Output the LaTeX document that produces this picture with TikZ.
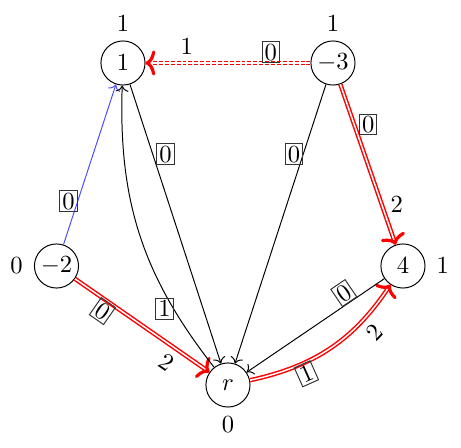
\documentclass[tikz,border=0pt]{standalone}
\usepackage{amsmath}
\usepackage{tikz}
\usetikzlibrary{arrows.meta}

\begin{document}
\begin{tikzpicture}[
    vert/.style={draw, circle, minimum size=6.3mm, inner sep=1pt},
    wt/.style={draw=black!80, text=black, line width=0.4pt, inner sep=1pt,
               solid},
    tight/.style={draw=red, double=white, line width=0.6pt,
                  double distance=0.6pt,
                  -{To[red, line width=1.3pt, length=1.4mm, width=3.6mm]}},
    dashtight/.style={tight, dash pattern=on 1.6pt off 0.8pt},
    thin/.style={-{To}},
  ]
  \useasboundingbox (-3.257,-0.9) rectangle (3.329,5.5);

  % vertices with their potentials
  \node[vert, label={above:$1$}] (n1) at (-1.5,4.6) {$1$};
  \node[vert, label={above:$1$}] (n3) at (1.5,4.6) {$-3$};
  \node[vert, label={[label distance=1pt]left:$0$}] (n2) at (-2.45,1.7) {$-2$};
  \node[vert, label={[label distance=1pt]right:$1$}] (n4) at (2.5,1.7) {$4$};
  \node[vert, label={below:$0$}] (nr) at (0,0) {$r$};

  % tight (red) edges
  \draw[dashtight] (n3) -- node[wt, above, pos=.24] {$0$}
    node[above, text=black, pos=.75] {$1$} (n1);
  \draw[tight] (n3) -- node[wt, right=2pt, pos=.25] {$0$}
    node[right, text=black, pos=.75] {$2$} (n4);
  \draw[tight] (n2) -- node[wt, sloped, below, pos=.25] {$0$}
    node[sloped, below, text=black, pos=.75] {$2$} (nr);
  \draw[tight] (nr) to[bend right=22] node[wt, sloped, below, pos=.3] {$1$}
    node[sloped, below, text=black, pos=.75] {$2$} (n4);

  % other edges
  \draw[thin, blue!70] (n2) -- node[wt, left, pos=.27] {$0$} (n1);
  \draw[thin] (n1) -- node[wt, right=1.5pt, pos=.25] {$0$} (nr);
  \draw[thin] (nr) to[bend left=20] node[wt, left, pos=.22] {$1$} (n1);
  \draw[thin] (n3) -- node[wt, left, pos=.25] {$0$} (nr);
  \draw[thin] (n4) -- node[wt, sloped, above, pos=.25] {$0$} (nr);
\end{tikzpicture}
\end{document}
